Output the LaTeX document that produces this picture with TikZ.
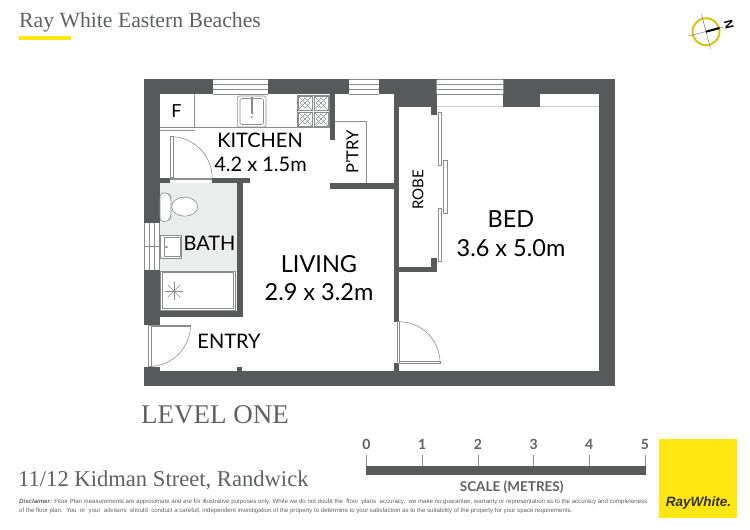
\documentclass[tikz,border=0pt]{standalone}
\usepackage{fontspec}
\setmainfont{Lato}
\newfontfamily\headfont{Liberation Serif}
\newfontfamily\smallfont{Liberation Sans}
\definecolor{wallgrey}{HTML}{58595B}
\definecolor{bathgrey}{HTML}{EBECEC}
\definecolor{linegrey}{HTML}{8A8C8E}
\definecolor{headgrey}{HTML}{5F6062}
\definecolor{rayyellow}{HTML}{FFE512}
\tikzset{
  wall/.style={fill=wallgrey,draw=none},
  fitting/.style={draw=linegrey,line width=0.6pt},
  leaf/.style={draw=linegrey,fill=white,line width=0.5pt},
  room/.style={text=black,font=\fontsize{#1}{#1}\selectfont,inner sep=0pt},
  scalenum/.style={text=headgrey,font=\fontsize{14}{14}\selectfont\bfseries,inner sep=0pt},
  fineprint/.style={text=headgrey,anchor=west,inner sep=0pt,font=\smallfont\fontsize{6.09}{6.09}\selectfont}
}
\begin{document}
\begin{tikzpicture}[x=1pt,y=-1pt]
    \useasboundingbox (0,0) rectangle (750,530);
    % bath floor
    \fill [bathgrey] (160,183) rectangle (238,312);
    % outer walls
    \fill [wall] (144.3,79.3) rectangle (212.7,94.3);
    \fill [wall] (267.7,79.3) rectangle (349.3,94.3);
    \fill [wall] (379.3,79.3) rectangle (436.7,94.3);
    \fill [wall] (394.3,94) rectangle (436.7,106.5);
    \fill [wall] (503.3,79.3) rectangle (615,94.3);
    \fill [wall] (503.3,94) rectangle (540,106.5);
    \fill [wall] (599.3,79.3) rectangle (615,386);
    \fill [wall] (144.3,371) rectangle (615,386);
    \fill [wall] (144.3,79.3) rectangle (160,223);
    \fill [wall] (144.3,269.5) rectangle (160,325);
    \fill [wall] (144.3,366.5) rectangle (160,371);
    % inner walls
    \fill [wall] (329.5,94) rectangle (335,139.5);
    \fill [wall] (330,183.3) rectangle (394.3,188.5);
    \fill [wall] (394.3,106) rectangle (399.3,321.7);
    \fill [wall] (394.3,363.3) rectangle (399.3,371);
    \fill [wall] (160,177.7) rectangle (170,183.3);
    \fill [wall] (212.3,177.7) rectangle (250,183.3);
    \fill [wall] (237.3,183) rectangle (242.7,316.5);
    \fill [wall] (160,311) rectangle (242.7,316.5);
    \fill [wall] (236.7,366.5) rectangle (242,371);
    \fill [wall] (399,266.7) rectangle (436.5,272.3);
    \fill [wall] (430.7,258.3) rectangle (436.5,272.3);
    \fill [wall] (430.7,106) rectangle (436.5,115);
    % windows
    \draw [fitting] (212.7,79.6) -- (267.7,79.6) (212.7,84.3) -- (267.7,84.3) (212.7,89.3) -- (267.7,89.3) (212.7,94) -- (267.7,94);
    \draw [fitting] (349.3,79.6) -- (379.3,79.6) (349.3,84.3) -- (379.3,84.3) (349.3,89.3) -- (379.3,89.3) (349.3,94) -- (379.3,94);
    \draw [fitting] (436.7,79.6) -- (503.3,79.6) (436.7,84.3) -- (503.3,84.3) (436.7,89.3) -- (503.3,89.3) (436.7,94) -- (503.3,94);
    \draw [fitting] (436.7,79.6) -- (436.7,94) (503.3,79.6) -- (503.3,94);
    \draw [fitting] (144.5,223) -- (144.5,269.5) (149.3,223) -- (149.3,269.5) (154.3,223) -- (154.3,269.5) (159.7,223) -- (159.7,269.5) (144.5,246.5) -- (159.7,246.5);
    % recess under the bed window
    \draw [fitting,draw=black!20] (436.7,106.5) -- (503.3,106.5) (540,106.5) -- (599.3,106.5);
    % kitchen bench and fridge
    \draw [fitting] (160,127.7) -- (194.3,127.7) -- (194.3,94.3);
    \draw [fitting] (160,130.3) -- (195,130.3);
    \draw [fitting] (194.3,127.7) -- (329.5,127.7);
    \draw [fitting,rounded corners=2pt] (237.3,96) rectangle (266,127);
    \draw [fitting,rounded corners=2pt] (240,98.5) rectangle (263.5,124.5);
    \draw [fitting] (251,97) rectangle (252.4,113);
    \fill [linegrey] (251.7,117) circle (1pt);
    % cooktop
    \draw [fitting] (297,95) rectangle (329.5,127.7);
    \foreach \cx in {305,321}
      \foreach \cy in {103,119}{
        \draw [fitting,line width=0.5pt] (\cx-7,\cy-7) rectangle (\cx+7,\cy+7);
        \draw [fitting,line width=0.5pt] (\cx-5,\cy) -- (\cx,\cy-5) -- (\cx+5,\cy) -- (\cx,\cy+5) -- cycle;
        \draw [fitting,line width=0.5pt] (\cx-7,\cy-7) -- (\cx+7,\cy+7) (\cx+7,\cy-7) -- (\cx-7,\cy+7);
      }
    % pantry shelf
    \draw [fitting] (335,121.7) -- (366.7,121.7) -- (366.7,183.3);
    % kitchen door
    \draw [leaf] (170.7,136.7) rectangle (173.7,177.7);
    \draw [fitting] (170.7,136.7) arc (-90:0:41.5);
    \draw [fitting] (170,177.9) -- (212.3,177.9) (170,179.5) -- (212.3,179.5);
    % toilet
    \draw [fitting,fill=white,rounded corners=4pt] (160,192.7) -- (168,192.7) -- (171,197) -- (171,217) -- (168,221.7) -- (160,221.7) -- cycle;
    \draw [fitting,fill=white] (184.7,206.7) ellipse (13 and 9.5);
    % vanity
    \draw [fitting,fill=white] (160.7,235) rectangle (181.7,258.3);
    \draw [fitting,fill=white] (164,237.3) rectangle (180,256);
    \draw [fitting] (166.5,247) circle (0.9pt);
    % shower
    \draw [fitting,fill=white] (160.7,271) rectangle (235,310);
    \draw [fitting] (162.5,272.7) rectangle (233.2,308.3);
    \foreach \ang in {0,45,...,315}
      \draw [fitting,line width=0.4pt] (174,291) -- ++(\ang:9);
    % entry door
    \draw [leaf] (148.5,325) rectangle (151,366.5);
    \draw [leaf] (151,325) rectangle (190.5,326.3);
    \draw [fitting] (190.5,325) arc (0:90:41.5);
    % bed door
    \draw [leaf] (396.8,321.7) rectangle (399,363.3);
    \draw [leaf] (399,361.6) rectangle (440,363.3);
    \draw [fitting] (399,321.7) arc (-90:0:41);
    % robe doors
    \draw [leaf] (438.3,112.3) rectangle (441.3,165);
    \draw [leaf] (443.7,160) rectangle (447.3,213.3);
    \draw [leaf] (438.3,208.3) rectangle (441.3,261.7);
    % room labels
    \node [room=18] (fridge) at (176.5,111) {F};
    \node [room=20] (kitchen) at (260,140.5) {KITCHEN};
    \node [room=20] (kitchensize) at (260.5,164) {4.2 x 1.5m};
    \node [room=16.5,rotate=90] (pantry) at (352,152) {P'TRY};
    \node [room=20] (bath) at (209.5,243) {BATH};
    \node [room=23.5] (living) at (319,264) {LIVING};
    \node [room=23.5] (livingsize) at (319,292) {2.9 x 3.2m};
    \node [room=20] (entry) at (229,341.5) {ENTRY};
    \node [room=15,rotate=90] (robe) at (418,190) {ROBE};
    \node [room=23.5] (bed) at (511,219) {BED};
    \node [room=23.5] (bedsize) at (511,248) {3.6 x 5.0m};
    % heading
    \node [anchor=west,inner sep=0pt,text=headgrey,font=\headfont\fontsize{21.7}{21.7}\selectfont] (office) at (19,22.5) {Ray White Eastern Beaches};
    \fill [rayyellow] (19,36) rectangle (71,39.5);
    \node [anchor=west,inner sep=0pt,text=headgrey,font=\headfont\fontsize{27}{27}\selectfont] (level) at (141,415) {LEVEL ONE};
    \node [anchor=west,inner sep=0pt,text=headgrey,font=\headfont\fontsize{22.6}{22.6}\selectfont] (address) at (18,480.5) {11/12 Kidman Street, Randwick};
    % north point
    \draw [rayyellow!85!black,line width=2pt] (706,31.7) circle (13.5);
    \draw [linegrey,line width=0.6pt] (701.5,14.5) -- (710.5,48.5) (689,36) -- (723,27);
    \draw [black,line width=2pt] (706,31.7) -- (719.5,28);
    \node [inner sep=0pt,rotate=-75,font=\smallfont\fontsize{12}{12}\selectfont\bfseries] (north) at (729,25) {N};
    % scale bar
    \fill [wallgrey] (366,465.7) rectangle (645.7,475);
    \foreach \n in {0,...,5}{
      \draw [linegrey,line width=0.6pt] (366.5+55.7*\n,455) -- (366.5+55.7*\n,466);
      \node [scalenum] (num\n) at (366.5+55.7*\n,444.5) {\n};
    }
    \node [inner sep=0pt,text=headgrey,font=\fontsize{13.5}{13.5}\selectfont\bfseries] (scaletitle) at (511.7,487) {SCALE (METRES)};
    % disclaimer
    \node [fineprint] (disclaimerone) at (19,502) {\textbf{\textit{Disclaimer:}} Floor Plan measurements are approximate and are for illustrative purposes only. While we do not doubt the\ \ floor\ \ plans\ \ accuracy,\ \ we make no guarantee, warranty or representation as to the accuracy and completeness};
    \node [fineprint] (disclaimertwo) at (19,511) {of the floor plan.\ \ You\ \ or\ \ your\ \ advisors\ \ should\ \ conduct a carefull, independent investigation of the property to determine to your satisfaction as to the suitability of the property for your space requirements.};
    % logo
    \fill [rayyellow] (658.7,439.3) rectangle (737.3,517.7);
    \node [inner sep=0pt,text=black!80,font=\smallfont\fontsize{13.5}{13.5}\selectfont\bfseries\itshape] (logo) at (698.5,503) {RayWhite.};
\end{tikzpicture}
\end{document}
